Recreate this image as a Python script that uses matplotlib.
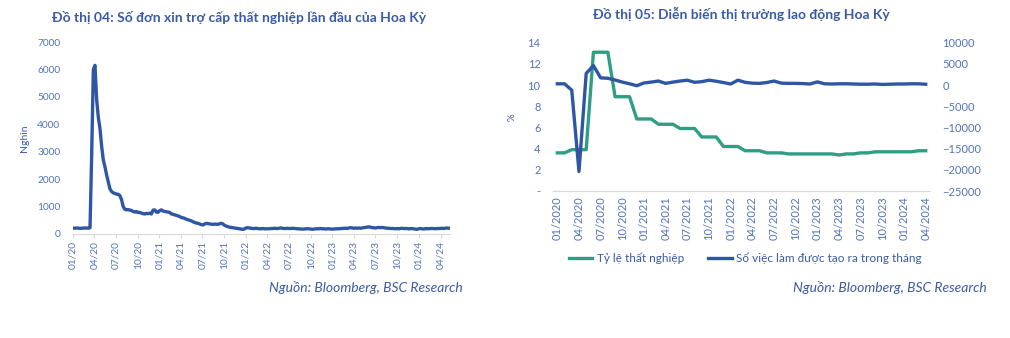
import numpy as np
import pandas as pd
import matplotlib
matplotlib.use("Agg")
import matplotlib.pyplot as plt
import matplotlib.dates as mdates
from matplotlib.ticker import FuncFormatter

plt.rcParams["font.family"] = ["Lato", "Noto Sans", "DejaVu Sans"]

# ---- Đồ thị 04: đơn xin trợ cấp thất nghiệp lần đầu (nghìn, theo tuần) ----
claims_start = "2020-01-04"
claims = [
    215, 210, 220, 215, 205, 210, 215, 220, 215, 215, 225, 2900, 6000,
    6150, 4900, 4250, 3850, 3200, 2700, 2450, 2150, 1900, 1650, 1550, 1500, 1480,
    1450, 1450, 1400, 1250, 1000, 900, 880, 890, 870, 860, 820, 800, 820,
    780, 790, 760, 740, 730, 750, 740, 760, 730, 870, 880, 800, 790,
    850, 880, 840, 820, 810, 800, 790, 730, 720, 700, 680, 660, 640,
    600, 590, 570, 540, 520, 500, 480, 450, 420, 400, 390, 370, 340,
    330, 360, 390, 380, 370, 360, 350, 360, 360, 350, 370, 390, 370,
    320, 290, 270, 250, 240, 230, 220, 210, 200, 190, 180, 170, 180,
    220, 230, 220, 210, 200, 200, 210, 200, 190, 190, 200, 190, 190,
    190, 190, 200, 200, 210, 200, 200, 210, 220, 210, 200, 200, 210,
    200, 200, 210, 200, 200, 190, 190, 180, 180, 180, 190, 190, 190,
    180, 170, 180, 190, 190, 190, 200, 190, 190, 180, 190, 190, 180,
    180, 180, 190, 190, 190, 200, 200, 210, 210, 200, 220, 230, 220,
    210, 220, 210, 220, 210, 220, 230, 240, 250, 260, 250, 230, 230,
    220, 230, 240, 230, 240, 230, 220, 210, 210, 200, 200, 200, 190,
    200, 190, 200, 210, 200, 200, 200, 190, 190, 200, 190, 180, 170,
    190, 200, 190, 180, 190, 200, 190, 200, 200, 200, 190, 200, 200,
    200, 210, 200, 210, 220, 210, 210,
]
claims_dates = pd.date_range(claims_start, periods=len(claims), freq="W-SAT")

# ---- Đồ thị 05: thị trường lao động (theo tháng, 01/2020 - 04/2024) ----
months = pd.date_range("2020-01-01", "2024-04-01", freq="MS")
unemployment = [
    3.6, 3.6, 3.9, 3.9, 3.9, 13.1, 13.1, 13.1, 8.9, 8.9, 8.9, 6.8, 6.8,
    6.8, 6.3, 6.3, 6.3, 5.9, 5.9, 5.9, 5.1, 5.1, 5.1, 4.2, 4.2, 4.2,
    3.8, 3.8, 3.8, 3.6, 3.6, 3.6, 3.5, 3.5, 3.5, 3.5, 3.5, 3.5, 3.5,
    3.4, 3.5, 3.5, 3.6, 3.6, 3.7, 3.7, 3.7, 3.7, 3.7, 3.7, 3.8, 3.8,
]
jobs = [
    300, 300, -1200, -20400, 2750, 4600, 1700, 1600, 1200, 700, 300, -150, 500,
    700, 950, 400, 700, 950, 1150, 650, 800, 1150, 900, 600, 250, 1150,
    650, 450, 400, 600, 950, 450, 400, 400, 350, 250, 750, 300, 250,
    300, 300, 250, 200, 200, 250, 150, 200, 250, 250, 300, 300, 200,
]

BLUE = "#2F55A5"
GREEN = "#2E9E84"
TXT = "#3A5BA8"
TICK = "#5273BA"
AXIS = "#D9D9D9"

fig = plt.figure(figsize=(10.10, 3.38), dpi=100)

# wykres lewy
ax1 = fig.add_axes([0.072, 0.3077, 0.3738, 0.568])
ax1.plot(claims_dates, claims, color=BLUE, lw=2.4, solid_joinstyle="round")
ax1.set_ylim(0, 7000)
ax1.set_yticks(range(0, 7001, 1000))
ax1.set_xlim(pd.Timestamp("2020-01-01"), claims_dates[-1] + pd.Timedelta(days=1))
ax1.xaxis.set_major_locator(mdates.MonthLocator(bymonth=[1, 4, 7, 10]))
ax1.xaxis.set_major_formatter(mdates.DateFormatter("%m/%y"))
for s in ["top", "right", "left"]:
    ax1.spines[s].set_visible(False)
ax1.spines["bottom"].set_color(AXIS)
ax1.tick_params(axis="y", length=0, pad=9, labelsize=7.3, labelcolor=TICK)
ax1.tick_params(axis="x", length=3, color=AXIS, pad=2, labelsize=7.3,
                labelcolor=TICK, labelrotation=90)
ax1.set_ylabel("Nghìn", color=TXT, fontsize=7.5, labelpad=6)

fig.text(0.237, 0.948, "Đồ thị 04: Số đơn xin trợ cấp thất nghiệp lần đầu của Hoa Kỳ",
         ha="center", va="center", fontsize=10, fontweight="bold", color=TXT)
fig.text(0.458, 0.148, "Nguồn: Bloomberg, BSC Research", ha="right", va="center",
         fontsize=10, style="italic", color=TXT)

# wykres prawy
ax2 = fig.add_axes([0.5475, 0.4349, 0.3733, 0.4388])
x = np.arange(len(months))
l1, = ax2.plot(x, unemployment, color=GREEN, lw=2.4, label="Tỷ lệ thất nghiệp")
ax2.set_ylim(0, 14)
ax2.set_yticks(range(0, 15, 2))
ax2.yaxis.set_major_formatter(FuncFormatter(lambda v, p: "-" if v == 0 else f"{v:.0f}"))
ax2.set_xlim(-0.6, len(months) - 0.4)
ax2.set_xticks(x[::3])
ax2.set_xticklabels([d.strftime("%m/%Y") for d in months[::3]])
ax3 = ax2.twinx()
l2, = ax3.plot(x, jobs, color=BLUE, lw=2.4, label="Số việc làm được tạo ra trong tháng")
ax3.set_ylim(-25000, 10000)
ax3.set_yticks(range(-25000, 10001, 5000))
for a in (ax2, ax3):
    for s in ["top", "right", "left"]:
        a.spines[s].set_visible(False)
    a.spines["bottom"].set_color(AXIS)
    a.tick_params(axis="y", length=0, pad=9, labelsize=8, labelcolor=TICK)
ax2.tick_params(axis="x", length=0, pad=4, labelsize=8, labelcolor=TICK,
                labelrotation=90)
ax2.set_ylabel("%", color=TXT, fontsize=7, labelpad=8)

fig.legend(handles=[l1, l2], loc="center", bbox_to_anchor=(0.738, 0.237), ncol=2,
           frameon=False, fontsize=8.5, labelcolor=TXT, handlelength=2.0,
           handletextpad=0.4, columnspacing=2.0)

fig.text(0.734, 0.958, "Đồ thị 05: Diễn biến thị trường lao động Hoa Kỳ",
         ha="center", va="center", fontsize=10, fontweight="bold", color=TXT)
fig.text(0.977, 0.148, "Nguồn: Bloomberg, BSC Research", ha="right", va="center",
         fontsize=10, style="italic", color=TXT)

fig.savefig("out.png", dpi=100)
